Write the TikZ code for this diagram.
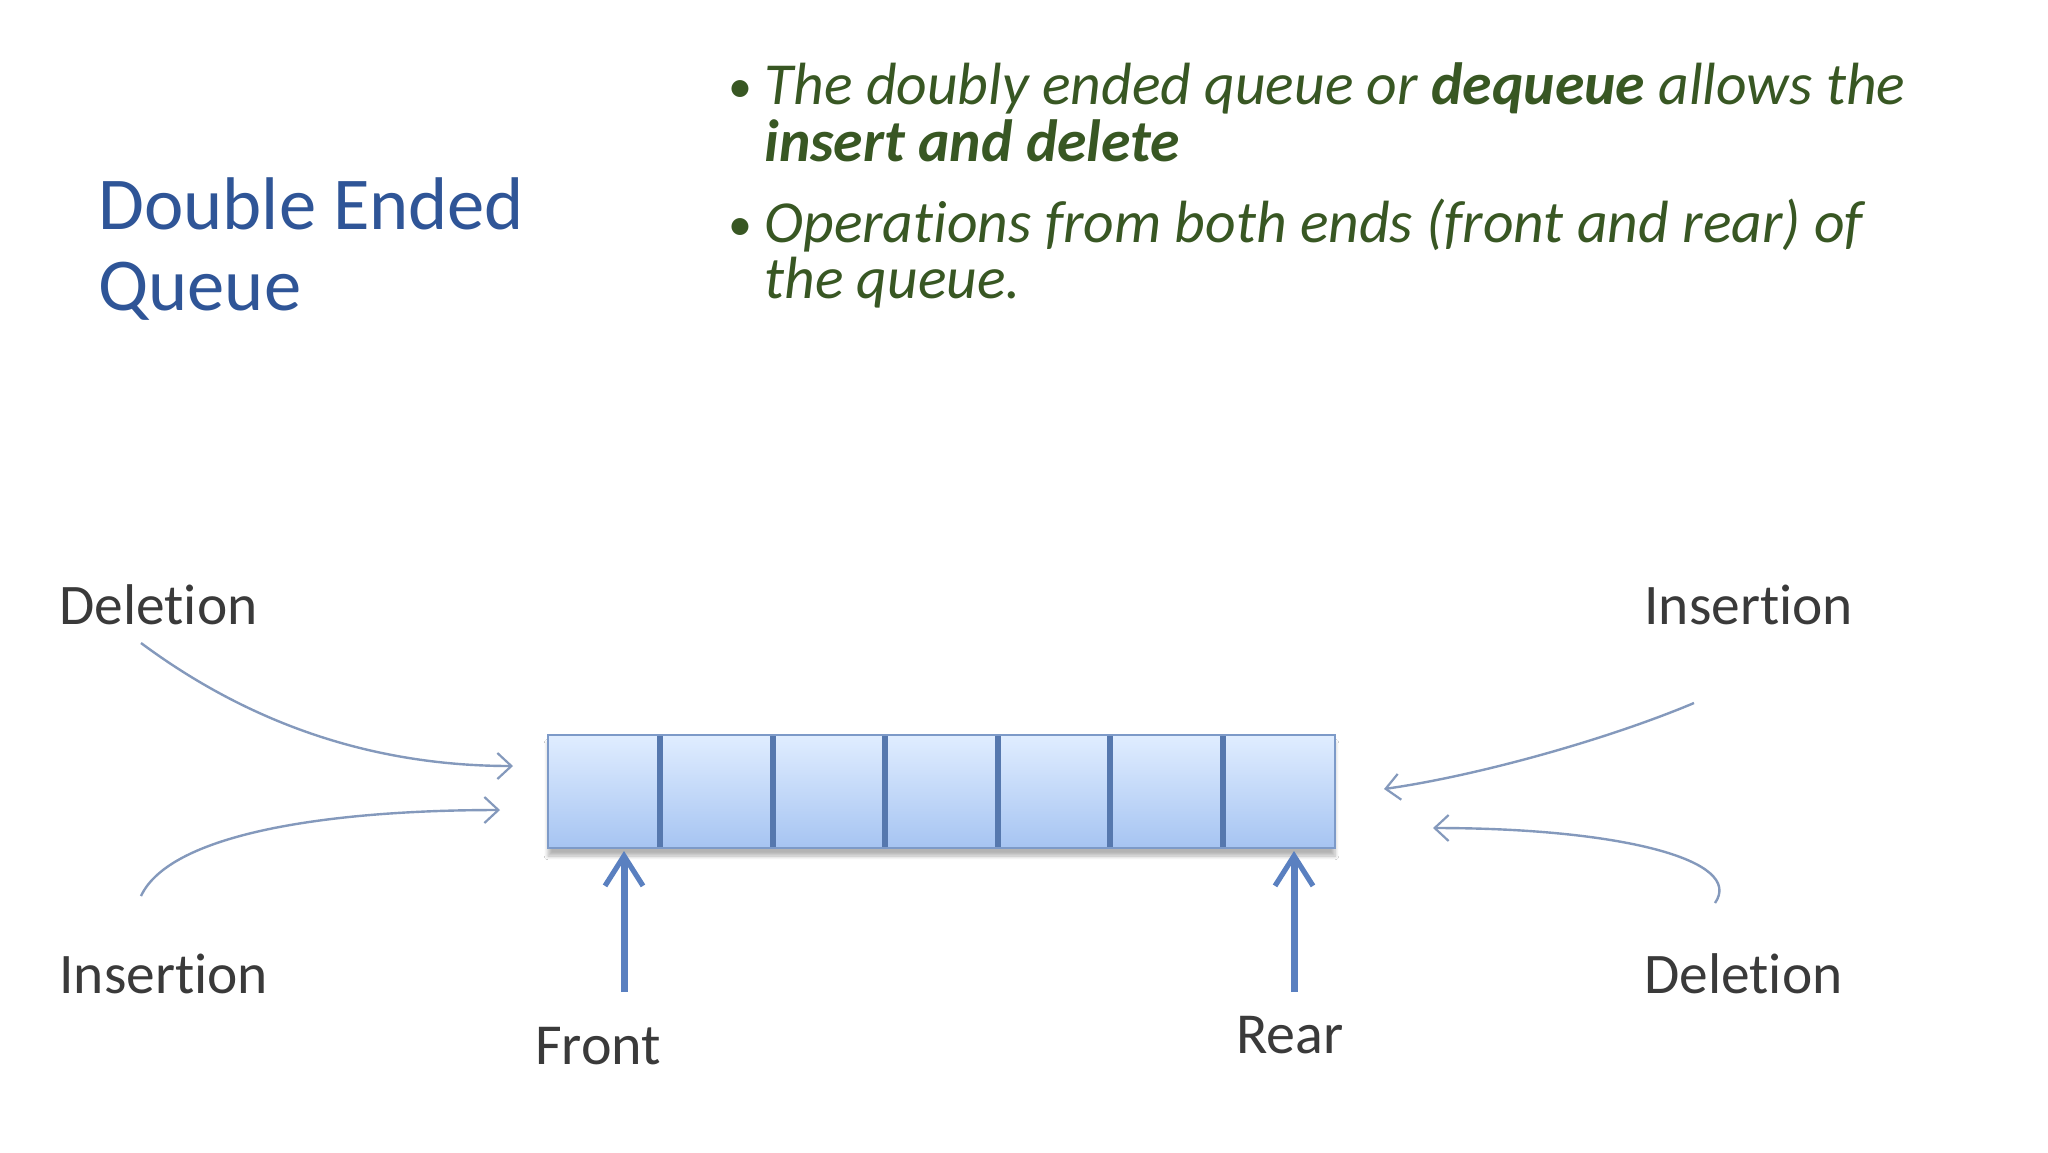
\documentclass[tikz,border=0pt]{standalone}
\usepackage{fontspec}
\setmainfont{Carlito}[Ligatures={NoCommon}]
\usetikzlibrary{arrows.meta,shadows.blur}
\definecolor{titleblue}{HTML}{2F5597}
\definecolor{bulletgreen}{HTML}{385723}
\definecolor{labelgray}{HTML}{3A3A3A}
\definecolor{cellborder}{HTML}{7D9AC8}
\definecolor{celldiv}{HTML}{5678AE}
\definecolor{celltop}{HTML}{E0EDFF}
\definecolor{cellbot}{HTML}{A6C4F2}
\definecolor{ptrblue}{HTML}{5A80C0}
\definecolor{curveblue}{HTML}{8499BC}
\begin{document}
\begin{tikzpicture}[x=0.5pt,y=-0.5pt,
  titletext/.style={anchor=base west,inner sep=0,text=titleblue,font=\fontsize{37.3}{37.3}\selectfont},
  bullettext/.style={anchor=base west,inner sep=0,text=bulletgreen,font=\fontsize{29.8}{29.8}\selectfont\itshape},
  bulletdot/.style={anchor=base west,inner sep=0,text=bulletgreen,font=\fontsize{24}{24}\selectfont},
  lbl/.style={anchor=base west,inner sep=0,text=labelgray,font=\fontsize{28.7}{28.7}\selectfont},
  lblc/.style={anchor=base,inner sep=0,text=labelgray,font=\fontsize{29}{29}\selectfont},
  curvearrow/.style={draw=curveblue,line width=1.2pt,-{Straight Barb[length=7pt,width=13pt,line width=1.1pt]}},
  ptrarrow/.style={draw=ptrblue,line width=3.5pt,-{Straight Barb[length=15pt,width=19pt,line width=2.6pt]}},
]
\useasboundingbox (0,0) rectangle (2048,1152);
\fill[white] (0,0) rectangle (2048,1152);

% title
\node[titletext] (title1) at (98,229) {Double Ended};
\node[titletext] (title2) at (98,310) {Queue};

% bullets
\node[bulletdot] (b1) at (728,102) {•};
\node[bullettext] (l1) at (764,104) {The doubly ended queue or \textbf{dequeue} allows the};
\node[bullettext] (l2) at (764,161) {\textbf{insert and delete}};
\node[bulletdot] (b2) at (728,240) {•};
\node[bullettext] (l3) at (764,242) {Operations from both ends (front and rear) of};
\node[bullettext] (l4) at (764,298) {the queue.};

% queue box
\path[blur shadow={shadow xshift=0pt,shadow yshift=-4pt,shadow blur steps=6,shadow opacity=30},
      top color=celltop,bottom color=cellbot,draw=cellborder,line width=1pt]
  (548,735) rectangle (1335,848);
\node[inner sep=0,minimum width=393.5pt,minimum height=56.5pt] (box) at (941.5,791.5) {};
\foreach \k in {1,...,6}{
  \draw[celldiv,line width=3pt] ({548+\k*112.43},736) -- ({548+\k*112.43},847);
}

% front / rear pointers
\node[lblc] (front) at (598,1064) {Front};
\node[lblc] (rear) at (1290,1053) {Rear};
\coordinate (fs) at (624,992);
\coordinate (ft) at (624,851);
\coordinate (rs) at (1294,992);
\coordinate (rt) at (1294,851);
\draw[ptrarrow] (fs) -- (ft);
\draw[ptrarrow] (rs) -- (rt);

% side labels
\node[lbl] (ldel) at (59,624) {Deletion};
\node[lbl] (lins) at (59,993) {Insertion};
\node[lbl] (rins) at (1644,624) {Insertion};
\node[lbl] (rdel) at (1644,993) {Deletion};

% curved arrows
\coordinate (a1s) at (141,643);
\coordinate (a1t) at (513,766);
\coordinate (a2s) at (141,896);
\coordinate (a2t) at (500,810);
\coordinate (a3s) at (1694,703);
\coordinate (a3t) at (1384,789);
\coordinate (a4s) at (1715,903);
\coordinate (a4t) at (1433,828);
\draw[curvearrow] (a1s) .. controls (265,735) and (392,766) .. (a1t);
\draw[curvearrow] (a2s) .. controls (170,834) and (326,810) .. (a2t);
\draw[curvearrow] (a3s) .. controls (1606,740) and (1476,776) .. (a3t);
\draw[curvearrow] (a4s) .. controls (1745,860) and (1620,828) .. (a4t);
\end{tikzpicture}
\end{document}
